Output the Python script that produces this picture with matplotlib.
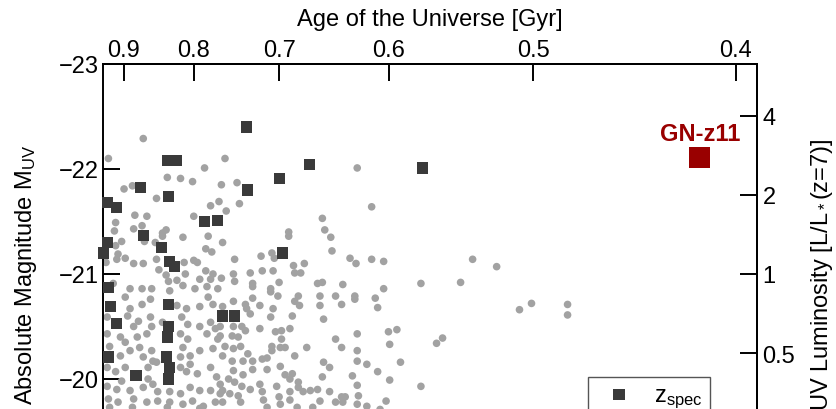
import numpy as np
import matplotlib
matplotlib.use('Agg')
import matplotlib.pyplot as plt

plt.rcParams['font.family'] = ['Liberation Sans', 'DejaVu Sans']
plt.rcParams['mathtext.fontset'] = 'custom'
plt.rcParams['mathtext.rm'] = 'Liberation Sans'
plt.rcParams['mathtext.it'] = 'Liberation Sans:italic'
plt.rcParams['mathtext.bf'] = 'Liberation Sans:bold'

# photometric candidates (redshift, M_UV)
z_phot = np.array([
    6.25, 5.96, 6.93, 6.76, 8.03, 6.45, 6.56, 6.66, 6.09, 6.16,
    6.36, 6.90, 6.81, 6.88, 6.18, 6.28, 6.67, 6.02, 6.01, 6.17,
    6.24, 6.41, 6.44, 6.41, 6.58, 6.79, 6.91, 6.26, 6.07, 6.02,
    6.35, 6.77, 6.82, 6.04, 6.03, 6.10, 5.94, 6.17, 6.25, 6.36,
    6.59, 6.67, 6.70, 6.38, 6.60, 6.44, 6.53, 6.46, 6.77, 6.83,
    6.72, 6.81, 6.90, 6.00, 7.03, 7.05, 6.94, 7.74, 7.76, 7.81,
    7.46, 7.46, 7.82, 7.01, 7.23, 7.32, 7.34, 7.50, 7.59, 7.14,
    7.24, 7.33, 7.51, 7.56, 7.00, 7.01, 7.16, 7.38, 7.70, 7.74,
    7.91, 7.31, 8.15, 7.97, 8.02, 8.15, 8.25, 8.56, 8.89, 8.25,
    8.99, 9.19, 9.38, 9.48, 9.78, 9.78, 8.69, 8.74, 8.39, 8.56,
    # fainter, lower-redshift cloud
    6.14, 6.24, 6.32, 6.47, 6.58, 6.68, 6.78, 6.87, 6.10, 6.79,
    6.31, 6.24, 6.14, 6.53, 6.61, 6.72, 6.83, 6.91, 5.95, 6.12,
    6.21, 6.31, 6.32, 6.41, 6.57, 6.62, 6.72, 6.81, 6.85, 6.17,
    5.95, 6.06, 6.10, 6.20, 6.28, 6.56, 6.62, 6.78, 6.87, 6.58,
    5.97, 6.14, 6.22, 6.32, 6.25, 6.33, 6.56, 6.64, 6.72, 6.83,
    6.91, 6.06, 5.95, 6.02, 6.10, 6.29, 6.36, 6.56, 6.64, 6.61,
    6.70, 6.81, 6.86, 6.07, 6.29, 5.95, 6.03, 6.14, 6.25, 6.33,
    6.37, 6.47, 6.56, 6.64, 6.72, 6.81, 6.89, 5.96, 6.04, 6.17,
    6.28, 6.37, 6.47, 6.58, 6.66, 6.75, 6.85, 5.97, 6.16, 6.45,
    6.72,
    7.16, 7.31, 7.37, 7.54, 7.51, 7.72, 7.85, 7.00, 7.10, 7.11,
    7.16, 7.22, 7.33, 7.55, 7.72, 7.90, 7.14, 7.31, 7.49, 7.75,
    6.89, 6.89, 7.00, 7.07, 7.10, 7.22, 7.35, 7.40, 7.47, 6.99,
    7.04, 7.40, 6.93, 7.00, 7.06, 7.32, 7.32, 7.39, 7.43, 7.61,
    7.85, 7.90, 7.12, 7.51, 6.99, 7.08, 7.16, 7.24, 7.28, 7.75,
    7.39, 7.80, 7.00, 7.16, 7.28, 7.08, 7.43, 7.49, 7.47, 7.74,
    6.96, 7.01, 6.89, 7.07, 7.22, 7.24, 7.36, 7.54, 7.54, 7.14,
    6.91, 6.97, 7.04, 7.47, 7.58, 7.64, 7.70, 7.80, 7.38, 7.25,
    7.47, 7.72, 7.85, 7.90, 7.06, 6.91, 7.39, 7.28, 7.53, 7.66,
    8.01, 8.01, 8.18, 8.20, 8.29, 8.36, 8.03, 8.30, 8.03, 8.03,
    8.11, 8.20, 7.99, 8.30, 8.03, 7.93, 8.04, 7.91, 8.03, 8.11,
    8.27, 8.22,
])
m_phot = np.array([
    -22.29, -22.10, -22.10, -22.01, -22.01, -21.92, -21.91, -21.88, -21.81, -21.84,
    -21.72, -21.85, -21.65, -21.69, -21.56, -21.55, -21.55, -21.49, -21.41, -21.43,
    -21.46, -21.39, -21.42, -21.36, -21.35, -21.36, -21.30, -21.31, -21.31, -21.27,
    -21.30, -21.24, -21.21, -21.19, -21.14, -21.15, -21.11, -21.10, -21.10, -21.14,
    -21.11, -21.13, -21.11, -21.04, -21.00, -20.99, -20.94, -20.93, -21.03, -21.00,
    -20.95, -20.95, -20.96, -20.91, -21.87, -21.67, -21.60, -21.53, -21.42, -21.35,
    -21.40, -21.36, -21.22, -21.14, -21.17, -21.20, -21.15, -21.08, -21.10, -21.01,
    -21.03, -21.03, -21.01, -21.01, -21.00, -20.93, -20.91, -20.92, -20.91, -20.92,
    -20.90, -20.86, -21.64, -21.15, -21.10, -21.14, -21.12, -20.91, -20.92, -20.86,
    -21.14, -21.07, -20.66, -20.72, -20.71, -20.61, -20.34, -20.39, -20.16, -19.93,
    -20.86, -20.86, -20.86, -20.84, -20.89, -20.86, -20.88, -20.86, -20.78, -20.78,
    -20.76, -20.71, -20.67, -20.70, -20.67, -20.69, -20.71, -20.69, -20.59, -20.60,
    -20.55, -20.59, -20.50, -20.54, -20.59, -20.52, -20.50, -20.54, -20.48, -20.50,
    -20.43, -20.40, -20.35, -20.40, -20.43, -20.43, -20.38, -20.43, -20.38, -20.30,
    -20.31, -20.27, -20.30, -20.27, -20.21, -20.17, -20.21, -20.22, -20.27, -20.29,
    -20.22, -20.22, -20.11, -20.07, -20.11, -20.11, -20.16, -20.11, -20.14, -20.07,
    -20.05, -20.11, -20.02, -19.98, -20.00, -19.93, -19.90, -19.89, -19.92, -19.95,
    -19.88, -19.88, -19.86, -19.92, -19.89, -19.89, -19.86, -19.81, -19.78, -19.81,
    -19.78, -19.79, -19.78, -19.76, -19.79, -19.74, -19.78, -19.73, -19.73, -19.73,
    -19.72,
    -20.88, -20.83, -20.79, -20.79, -20.74, -20.79, -20.79, -20.74, -20.71, -20.67,
    -20.77, -20.70, -20.67, -20.70, -20.70, -20.71, -20.62, -20.59, -20.60, -20.57,
    -20.50, -20.41, -20.50, -20.50, -20.46, -20.48, -20.45, -20.46, -20.48, -20.41,
    -20.40, -20.38, -20.31, -20.29, -20.31, -20.31, -20.27, -20.30, -20.30, -20.30,
    -20.38, -20.30, -20.24, -20.22, -20.17, -20.17, -20.17, -20.19, -20.20, -20.16,
    -20.12, -20.11, -20.08, -20.09, -20.09, -20.04, -20.04, -20.05, -20.00, -20.02,
    -20.00, -19.97, -19.95, -19.93, -19.95, -19.88, -19.93, -19.97, -19.92, -19.90,
    -19.89, -19.86, -19.84, -19.88, -19.88, -19.89, -19.90, -19.88, -19.83, -19.80,
    -19.80, -19.79, -19.78, -19.83, -19.78, -19.78, -19.76, -19.73, -19.73, -19.73,
    -20.79, -20.76, -20.77, -20.68, -20.45, -20.47, -20.43, -20.33, -20.27, -20.17,
    -20.14, -20.07, -20.03, -19.99, -19.94, -19.83, -19.84, -19.78, -19.76, -19.74,
    -19.79, -19.71,
])

# spectroscopically confirmed sources
z_spec = np.array([
    7.11, 6.45, 6.53, 7.63, 8.57, 7.38, 7.12, 6.23, 6.46, 5.95,
    6.03, 6.76, 6.87, 6.25, 5.95, 5.92, 6.40, 6.47, 6.51, 7.41,
    5.96, 5.98, 6.03, 6.46, 6.46, 6.45, 6.91, 7.01, 5.96, 6.44,
    6.47, 6.46, 6.19,
])
m_spec = np.array([
    -22.40, -22.08, -22.08, -22.04, -22.01, -21.91, -21.80, -21.82, -21.74, -21.68,
    -21.63, -21.50, -21.51, -21.37, -21.30, -21.20, -21.25, -21.12, -21.07, -21.20,
    -20.87, -20.69, -20.53, -20.71, -20.50, -20.40, -20.60, -20.60, -20.21, -20.21,
    -20.11, -20.00, -20.03,
])

z_gnz11 = 10.88
m_gnz11 = -22.11

mag_ticks = [-23, -22, -21, -20]
age_ticks = [0.9, 0.8, 0.7, 0.6, 0.5, 0.4]
lum_ticks = [4, 2, 1, 0.5]

M_STAR = -21.0           # L* at z~7
H0, OM, OL = 70.0, 0.3, 0.7
T_A = 2.0 / (3.0 * np.sqrt(OL)) * 977.8 / H0   # Gyr
B = np.sqrt(OL / OM)


def z_to_age(z):
    x = np.clip(1.0 + np.asarray(z, float), 1e-3, None) ** -1.5
    return T_A * np.arcsinh(B * x)


def age_to_z(t):
    t = np.clip(np.asarray(t, float), 1e-4, None)
    return (np.sinh(t / T_A) / B) ** (-2.0 / 3.0) - 1.0


def mag_to_lum(m):
    return 10 ** (-0.4 * (np.asarray(m, float) - M_STAR))


def lum_to_mag(lum):
    return M_STAR - 2.5 * np.log10(np.clip(np.asarray(lum, float), 1e-6, None))


FS = 17
LW = 1.4

fig = plt.figure(figsize=(8.36, 4.10), dpi=100)
# the axes runs past the lower edge of the figure
ax = fig.add_axes([103 / 836, -75 / 410, 654 / 836, 420 / 410])

ax.scatter(z_phot, m_phot, s=30, marker='o', color='#a2a2a2', edgecolors='none',
           zorder=2)
ax.scatter(z_spec, m_spec, s=64, marker='s', color='#3a3a3a', edgecolors='none',
           zorder=3, clip_on=False, label=r'z$_{\rm spec}$')
ax.scatter([z_gnz11], [m_gnz11], s=230, marker='s', color='#990000',
           edgecolors='none', zorder=4)
ax.annotate('GN-z11', (z_gnz11, m_gnz11), xytext=(0, 17), textcoords='offset points',
            ha='center', va='center', fontsize=FS, fontweight='bold', color='#990000')

ax.set_xlim(5.915, 11.356)
ax.set_ylim(-19, -23)
ax.set_yticks(mag_ticks)
ax.tick_params(direction='in', length=12, width=LW, labelsize=FS, pad=3,
               top=False, right=False, labelbottom=False)
for sp in ax.spines.values():
    sp.set_linewidth(LW)
ax.set_ylabel(r'Absolute Magnitude M$_{\rm UV}$', fontsize=FS, labelpad=14)

top = ax.secondary_xaxis('top', functions=(z_to_age, age_to_z))
top.set_xticks(age_ticks, labels=['%.1f' % a for a in age_ticks])
top.tick_params(direction='in', length=12, width=LW, labelsize=FS, pad=2)
top.spines['top'].set_linewidth(LW)
top.set_xlabel('Age of the Universe [Gyr]', fontsize=FS, labelpad=10)

right = ax.secondary_yaxis('right', functions=(mag_to_lum, lum_to_mag))
right.set_yticks(lum_ticks, labels=['%g' % l for l in lum_ticks])
right.tick_params(direction='in', length=12, width=LW, labelsize=FS, pad=4)
right.spines['right'].set_linewidth(LW)
right.set_ylabel(r'UV Luminosity [L/L$_*$(z=7)]', fontsize=FS, labelpad=10)

leg = ax.legend(loc='upper left', bbox_to_anchor=(0.742, 0.255), fontsize=FS,
                frameon=True, fancybox=False, framealpha=1, edgecolor='#555555',
                borderaxespad=0, handletextpad=0.5, borderpad=0.3, scatterpoints=1)
leg.get_frame().set_linewidth(1.0)

fig.savefig('out.png', dpi=100)
